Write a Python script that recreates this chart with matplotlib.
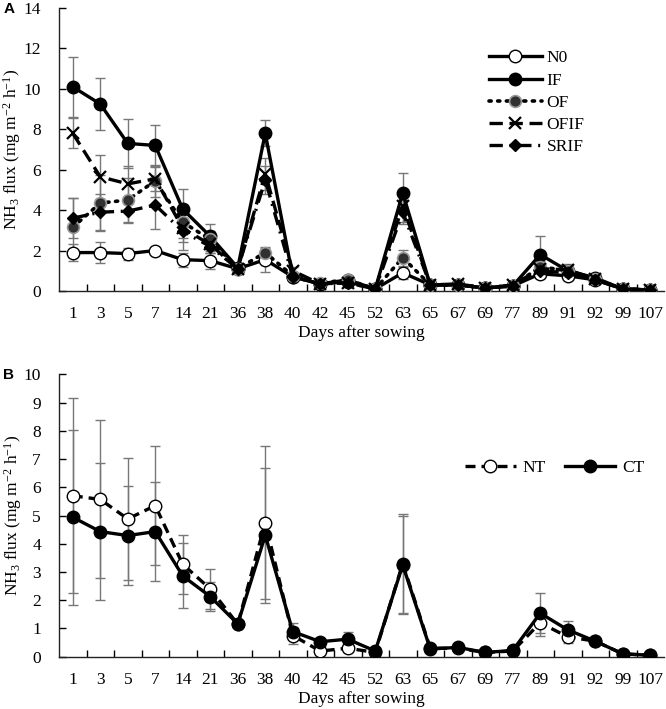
import numpy as np
import matplotlib
matplotlib.use("Agg")
import matplotlib.pyplot as plt

plt.rcParams['font.family'] = ['Liberation Serif', 'DejaVu Serif']
plt.rcParams['mathtext.fontset'] = 'custom'
plt.rcParams['mathtext.rm'] = 'Liberation Serif'
plt.rcParams['mathtext.it'] = 'Liberation Serif:italic'

days = ['1', '3', '5', '7', '14', '21', '36', '38', '40', '42', '45', '52',
        '63', '65', '67', '69', '77', '89', '91', '92', '99', '107']

# panel A
n0 = [1.9, 1.9, 1.85, 2.0, 1.55, 1.5, 1.1, 1.55, 0.7, 0.35, 0.55, 0.1,
      0.9, 0.3, 0.3, 0.15, 0.25, 0.85, 0.75, 0.55, 0.1, 0.05]
n0_err = [0.4, 0.5, 0.3, 0.2, 0.35, 0.4, 0.1, 0.6, 0.1, 0.1, 0.1, 0.05,
          0.3, 0.05, 0.05, 0.05, 0.05, 0.2, 0.1, 0.1, 0.05, 0.02]
if_ = [10.1, 9.25, 7.3, 7.2, 4.05, 2.7, 1.15, 7.8, 0.7, 0.35, 0.45, 0.1,
       4.85, 0.3, 0.3, 0.15, 0.25, 1.8, 1.0, 0.65, 0.1, 0.05]
if_err = [1.5, 1.3, 1.2, 1.0, 1.0, 0.6, 0.1, 0.65, 0.1, 0.1, 0.1, 0.05,
          1.0, 0.05, 0.05, 0.05, 0.05, 0.9, 0.3, 0.1, 0.05, 0.02]
of = [3.15, 4.35, 4.5, 5.45, 3.4, 2.55, 1.1, 1.9, 0.75, 0.4, 0.55, 0.1,
      1.65, 0.3, 0.3, 0.15, 0.25, 1.2, 1.0, 0.6, 0.1, 0.05]
of_err = [1.45, 1.4, 1.1, 0.8, 0.8, 0.4, 0.1, 0.3, 0.1, 0.1, 0.1, 0.05,
          0.4, 0.05, 0.05, 0.05, 0.05, 0.3, 0.2, 0.1, 0.05, 0.02]
ofif = [7.8, 5.65, 5.3, 5.55, 3.1, 2.3, 1.1, 5.8, 1.0, 0.35, 0.4, 0.1,
        4.2, 0.3, 0.35, 0.15, 0.3, 1.1, 1.05, 0.6, 0.1, 0.05]
ofif_err = [0.75, 1.1, 0.9, 0.6, 0.7, 0.3, 0.1, 0.8, 0.2, 0.1, 0.1, 0.05,
            0.8, 0.05, 0.05, 0.05, 0.05, 0.3, 0.3, 0.1, 0.05, 0.02]
srif = [3.6, 3.9, 3.95, 4.25, 2.95, 2.2, 1.1, 5.5, 0.7, 0.35, 0.4, 0.1,
        3.9, 0.3, 0.3, 0.15, 0.25, 1.0, 0.9, 0.55, 0.1, 0.05]
srif_err = [1.0, 0.9, 0.6, 1.2, 0.9, 0.3, 0.1, 0.7, 0.1, 0.1, 0.1, 0.05,
            0.6, 0.05, 0.05, 0.05, 0.05, 0.3, 0.2, 0.1, 0.05, 0.02]

# panel B
nt = [5.7, 5.57, 4.88, 5.35, 3.27, 2.4, 1.15, 4.75, 0.75, 0.2, 0.3, 0.15,
      3.3, 0.3, 0.3, 0.15, 0.2, 1.2, 0.7, 0.55, 0.1, 0.05]
nt_err = [3.45, 2.8, 2.15, 2.1, 1.05, 0.7, 0.05, 2.7, 0.3, 0.1, 0.1, 0.05,
          1.75, 0.05, 0.05, 0.05, 0.05, 0.45, 0.2, 0.1, 0.05, 0.02]
ct = [4.94, 4.43, 4.29, 4.43, 2.86, 2.13, 1.16, 4.3, 0.89, 0.53, 0.62, 0.2,
      3.25, 0.27, 0.33, 0.15, 0.22, 1.54, 0.95, 0.55, 0.1, 0.05]
ct_err = [3.1, 2.42, 1.75, 1.75, 1.15, 0.5, 0.05, 2.4, 0.3, 0.1, 0.25, 0.05,
          1.75, 0.05, 0.05, 0.05, 0.05, 0.7, 0.3, 0.1, 0.05, 0.02]

x = np.arange(len(days))
ylab = 'NH$_3$ flux (mg m$^{-2}$ h$^{-1}$)'
fs = 12.5

fig = plt.figure(figsize=(6.66, 7.09), dpi=100)
axA = fig.add_axes([0.0886, 0.5896, 0.9084, 0.3991])
axB = fig.add_axes([0.0886, 0.0738, 0.9084, 0.3982])


def series(ax, y, err, label, **kw):
    ax.errorbar(x, y, yerr=err, fmt='none', ecolor='#777777', elinewidth=1,
                capsize=3.5, capthick=1, zorder=1)
    ax.plot(x, y, label=label, zorder=3, **kw)


series(axA, n0, n0_err, 'N0', color='black', lw=2.4, ls='-', marker='o',
       ms=9, mfc='white', mec='black', mew=1)
series(axA, if_, if_err, 'IF', color='black', lw=2.4, ls='-', marker='o',
       ms=9, mfc='black', mec='black')
series(axA, of, of_err, 'OF', color='black', lw=2.6, ls=(0, (0.6, 1.8)),
       dash_capstyle='round', marker='o', ms=8.5, mfc='#303030',
       mec='#999999', mew=1.2)
series(axA, ofif, ofif_err, 'OFIF', color='black', lw=2.4,
       ls=(0, (4, 2)), marker='x', ms=9, mew=1.6)
series(axA, srif, srif_err, 'SRIF', color='black', lw=2.4,
       ls=(0, (4, 2, 0.6, 2)), marker='D', ms=6.5)

series(axB, nt, nt_err, 'NT', color='black', lw=2.4, ls=(0, (3.0, 1.8)),
       marker='o', ms=9, mfc='white', mec='black', mew=1)
series(axB, ct, ct_err, 'CT', color='black', lw=2.4, ls='-', marker='o',
       ms=9, mfc='black', mec='black')

for ax, top, step in [(axA, 14, 2), (axB, 10, 1)]:
    ax.set_xlim(-0.5, len(days) - 0.5)
    ax.set_ylim(0, top)
    ax.set_yticks(np.arange(0, top + 0.1, step))
    ax.set_xticks(x)
    ax.set_xticklabels(days)
    ax.set_xticks(np.arange(0.5, len(days) - 0.5, 1), minor=True)
    ax.tick_params(axis='x', which='major', length=0, pad=11, labelsize=fs)
    ax.tick_params(axis='x', which='minor', direction='in', length=5, width=1)
    ax.tick_params(axis='y', direction='in', length=5, width=1, labelsize=fs,
                   pad=13)
    for s in ['top', 'right']:
        ax.spines[s].set_visible(False)
    for s in ['left', 'bottom']:
        ax.spines[s].set_linewidth(1)
        ax.spines[s].set_color('#222222')
    ax.set_xlabel('Days after sowing', fontsize=fs, labelpad=2)
    ax.set_ylabel(ylab, fontsize=fs, labelpad=0)

axA.legend(loc='upper left', bbox_to_anchor=(0.70, 0.875), frameon=False,
           fontsize=fs, handlelength=3.0, handletextpad=0.3,
           labelspacing=0.35, borderaxespad=0)
axB.legend(loc='upper left', bbox_to_anchor=(0.66, 0.72), frameon=False,
           fontsize=fs, ncol=2, handlelength=2.9, handletextpad=0.4,
           columnspacing=1.1, borderaxespad=0)

fig.text(0.005, 0.988, 'A', fontsize=11, fontweight='bold',
         family='Liberation Sans', va='center')
fig.text(0.005, 0.471, 'B', fontsize=11, fontweight='bold',
         family='Liberation Sans', va='center')

fig.savefig('out.png', dpi=100)
